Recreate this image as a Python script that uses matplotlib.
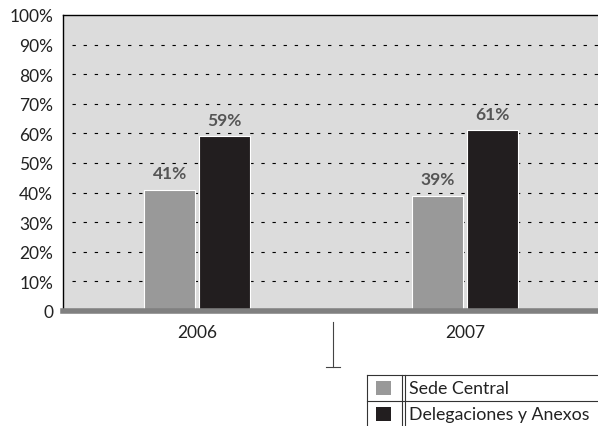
import numpy as np
import matplotlib.pyplot as plt
from matplotlib.patches import Rectangle
from matplotlib.lines import Line2D

plt.rcParams['font.family'] = ['Lato', 'DejaVu Sans']

years = ['2006', '2007']
series_names = ['Sede Central', 'Delegaciones y Anexos']
sede = [41, 39]
delegaciones = [59, 61]
colors = ['#999999', '#221e1f']
yticks = list(range(0, 101, 10))
ylabels = ['0'] + ['%d%%' % v for v in yticks[1:]]

W, H = 598, 427
fig = plt.figure(figsize=(W / 100, H / 100), dpi=100)
ax = fig.add_axes([63 / W, 1 - 312 / H, 536 / W, 296 / H])
ax.set_facecolor('#dcdcdc')

x = np.arange(len(years))
bw = 0.19
off = 0.102
for vals, col, dx in [(sede, colors[0], -off), (delegaciones, colors[1], off)]:
    bars = ax.bar(x + dx, vals, bw, color=col, edgecolor='white', linewidth=0.8, zorder=3)
    for b, v in zip(bars, vals):
        ax.text(b.get_x() + b.get_width() / 2, v + 2.8, '%d%%' % v, ha='center', va='bottom',
                fontsize=12.5, fontweight='bold', color='#555555', zorder=4)

for v in yticks[1:-1]:
    ax.plot([-0.465, 1.5], [v, v], color='black', lw=0.8, ls=(0, (3, 7)), zorder=1)

ax.set_xlim(-0.5, 1.5)
ax.set_ylim(0, 100)
ax.set_yticks(yticks)
ax.set_yticklabels(ylabels, fontsize=12.5, color='#222222')
ax.set_xticks(x)
ax.set_xticklabels(years, fontsize=12.5, color='#222222')
ax.tick_params(length=0, axis='y', pad=7)
ax.tick_params(length=0, axis='x', pad=9)
for s in ['right', 'bottom']:
    ax.spines[s].set_visible(False)
for s in ['left', 'top']:
    ax.spines[s].set_linewidth(1.0)
ax.axhline(0, color='#808080', lw=4, zorder=5, clip_on=False)

# odd separator mark below the axis
fig.add_artist(Line2D([333 / W, 333 / W], [1 - 323 / H, 1 - 368 / H], color='#444444', lw=0.8))
fig.add_artist(Line2D([326 / W, 340 / W], [1 - 368 / H, 1 - 368 / H], color='#444444', lw=0.8))

# legend table
lx0, lx1, lx2, lx3 = 367, 402, 405, 640
rows = [376, 402, 428]
for yy in rows:
    fig.add_artist(Line2D([lx0 / W, lx3 / W], [1 - yy / H, 1 - yy / H], color='#333333', lw=0.8))
for xx in [lx0, lx1, lx2]:
    fig.add_artist(Line2D([xx / W, xx / W], [1 - rows[0] / H, 1 - rows[-1] / H], color='#333333', lw=0.8))
for i, (name, col) in enumerate(zip(series_names, colors)):
    top = rows[i]
    fig.add_artist(Rectangle(((lx0 + 9) / W, 1 - (top + 20) / H), 15 / W, 14 / H,
                             facecolor=col, edgecolor='none', transform=fig.transFigure))
    fig.text((lx2 + 4) / W, 1 - (top + 13) / H, name, fontsize=12.8, color='#222222', va='center')

fig.savefig('out.png', dpi=100)
